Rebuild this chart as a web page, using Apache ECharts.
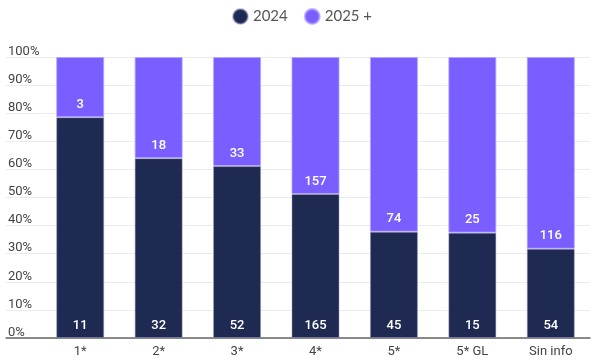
<!DOCTYPE html>
<html>
<head>
<meta charset="utf-8">
<script src="https://cdn.jsdelivr.net/npm/echarts@6/dist/echarts.min.js"></script>
<style>html,body{margin:0;padding:0;background:#fff}#c{width:604px;height:363px}</style>
</head>
<body>
<div id="c"></div>
<script>
var categories = ['1*', '2*', '3*', '4*', '5*', '5* GL', 'Sin info'];
var values2024 = [11, 32, 52, 165, 45, 15, 54];
var values2025 = [3, 18, 33, 157, 74, 25, 116];
var yTicks = [0, 10, 20, 30, 40, 50, 60, 70, 80, 90, 100];

function share(a, b) {
  return a.map(function (v, i) { return v / (v + b[i]) * 100; });
}
var pct2024 = share(values2024, values2025);
var pct2025 = share(values2025, values2024);

var chart = echarts.init(document.getElementById('c'));
var fontFam = 'Roboto, "Noto Sans", sans-serif';
chart.setOption({
  animation: false,
  legend: {
    top: 3,
    left: 'center',
    icon: 'circle',
    itemWidth: 15,
    itemHeight: 15,
    itemGap: 16,
    textStyle: { fontSize: 15, color: '#555', fontFamily: 'Lato, "Open Sans", sans-serif' },
    data: ['2024', '2025 +']
  },
  grid: [
    { left: 6, right: 14, top: 57, bottom: 25 },
    { left: 41, right: 14, top: 57, bottom: 25 }
  ],
  xAxis: [
    {
      gridIndex: 0, type: 'value', min: 0, max: 1,
      axisLine: { show: true, lineStyle: { color: '#666', width: 1.5 } },
      axisTick: { show: false }, axisLabel: { show: false }, splitLine: { show: false }
    },
    {
      gridIndex: 1, type: 'category', data: categories,
      axisLine: { show: false }, axisTick: { show: false },
      axisLabel: { color: '#444', fontSize: 13, margin: 7, fontFamily: fontFam }
    }
  ],
  yAxis: [
    {
      gridIndex: 0, type: 'value', min: 0, max: 100, interval: 10,
      axisLine: { show: false }, axisTick: { show: false },
      axisLabel: {
        inside: true, margin: 2, verticalAlign: 'bottom', lineHeight: 11,
        color: '#444', fontSize: 13, fontFamily: fontFam,
        formatter: function (v) { return yTicks.indexOf(v) >= 0 ? v + '%' : ''; }
      },
      splitLine: { lineStyle: { color: '#ececec', width: 1 } }
    },
    {
      gridIndex: 1, type: 'value', min: 0, max: 100, interval: 10,
      show: false, splitLine: { show: false }
    }
  ],
  series: [
    {
      name: '2024', type: 'bar', stack: 's', xAxisIndex: 1, yAxisIndex: 1,
      barWidth: 48,
      data: pct2024,
      itemStyle: { color: '#1F2A52', borderColor: 'rgba(150,150,190,0.5)', borderWidth: 1 },
      label: {
        show: true, position: 'insideBottom', distance: 6,
        color: '#fff', fontSize: 13, fontWeight: 500, fontFamily: fontFam,
        formatter: function (p) { return values2024[p.dataIndex]; }
      }
    },
    {
      name: '2025 +', type: 'bar', stack: 's', xAxisIndex: 1, yAxisIndex: 1,
      barWidth: 48,
      data: pct2025,
      itemStyle: { color: '#7B5EFF', borderColor: 'rgba(180,165,255,0.8)', borderWidth: 1 },
      label: {
        show: true, position: 'insideBottom', distance: 6,
        color: '#fff', fontSize: 13, fontWeight: 500, fontFamily: fontFam,
        formatter: function (p) { return values2025[p.dataIndex]; }
      }
    }
  ]
});
</script>
</body>
</html>
